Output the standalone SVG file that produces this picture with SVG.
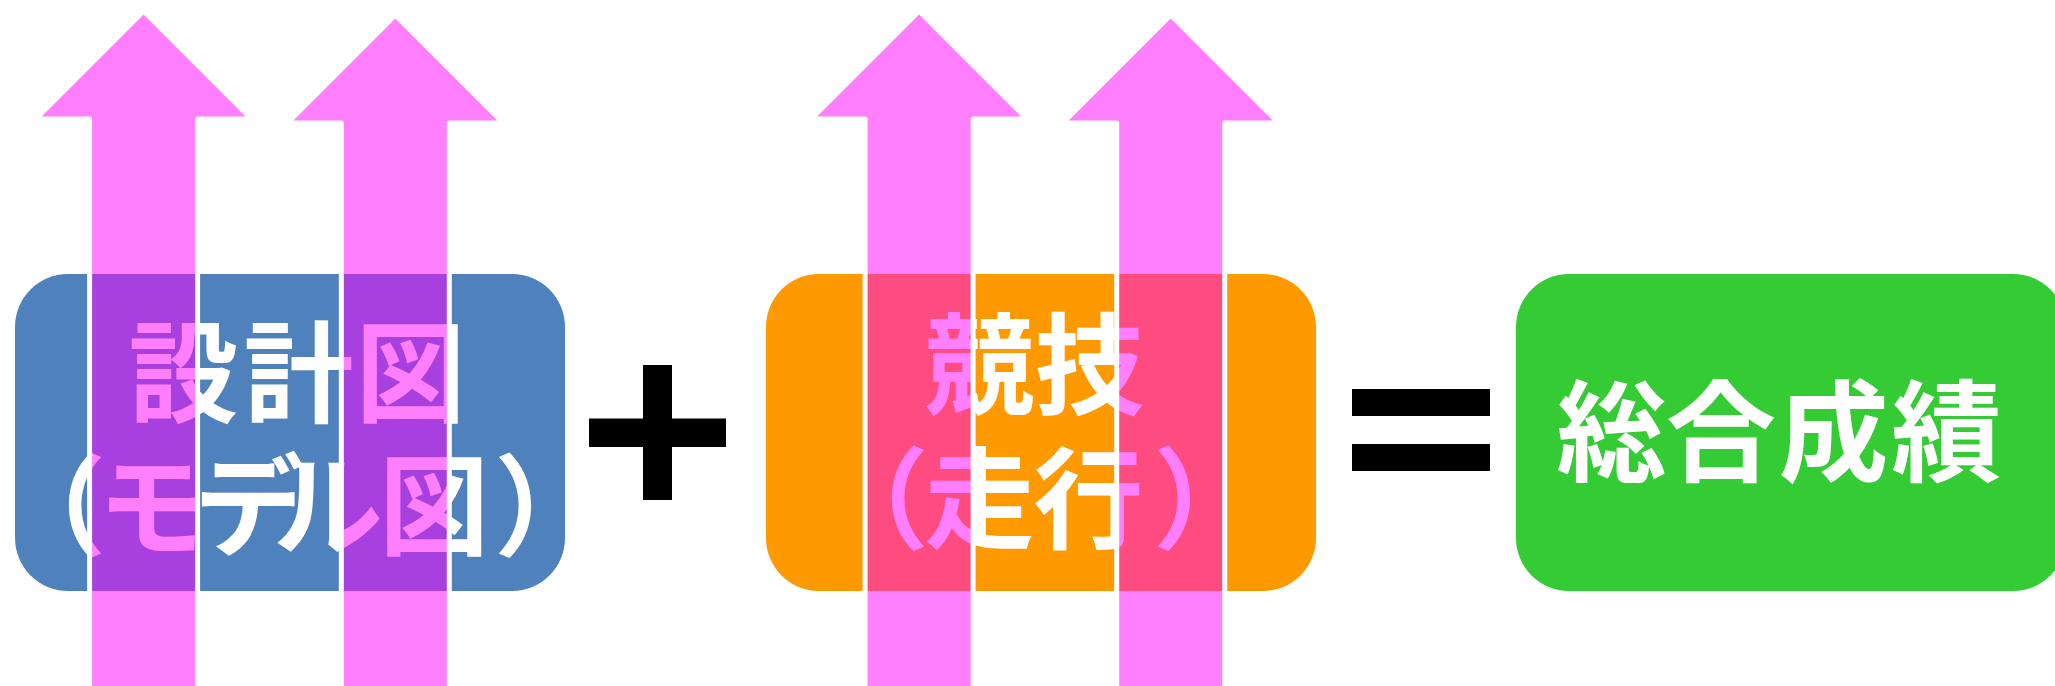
<svg xmlns="http://www.w3.org/2000/svg" width="2055" height="686" viewBox="0 0 2055 686">
<style>
.box{stroke:none}
.lbl{font-family:"Noto Sans CJK JP","Noto Sans CJK SC",sans-serif;font-weight:700;font-size:110px;fill:#ffffff}
.arrow{fill:#FF00FF;fill-opacity:0.5;stroke:#ffffff;stroke-width:5;stroke-linejoin:round}
.op{fill:#000000}
</style>
<rect x="0" y="0" width="2055" height="686" fill="#ffffff"/>
<g id="node-design">
<rect class="box" x="15" y="274" width="550" height="317" rx="53" ry="53" fill="#4F81BD"/>
<text class="lbl"><tspan x="128.5 243.5 355.5" y="414">設計図</tspan><tspan x="-4 97.5 194 273 379 494" y="547">（モデル図）</tspan></text>
</g>
<g id="node-race">
<rect class="box" x="766" y="274" width="550" height="317" rx="53" ry="53" fill="#FF9900"/>
<text class="lbl"><tspan x="924.5 1034.5" y="406">競技</tspan><tspan x="819 924.5 1033.5 1153" y="539.5">（走行）</tspan></text>
</g>
<g id="node-total">
<rect class="box" x="1516" y="274" width="550" height="317" rx="53" ry="53" fill="#35CB35"/>
<text class="lbl" x="1556.5 1666 1778.5 1891.5" y="472.5">総合成績</text>
</g>
<g id="op-plus">
<rect class="op" x="643" y="365" width="29" height="135"/>
<rect class="op" x="589" y="418.5" width="137" height="28.5"/>
</g>
<g id="op-equals">
<rect class="op" x="1352" y="389" width="138" height="27"/>
<rect class="op" x="1352" y="444" width="138" height="27"/>
</g>
<g id="connectors">
<polygon class="arrow" points="143.6,11 251.6,119 197.6,119 197.6,700 89.6,700 89.6,119 35.6,119"/>
<polygon class="arrow" points="395.3,15 503.3,123 449.3,123 449.3,700 341.3,700 341.3,123 287.3,123"/>
<polygon class="arrow" points="919.1,11 1027.1,119 973.1,119 973.1,700 865.1,700 865.1,119 811.1,119"/>
<polygon class="arrow" points="1170.7,15 1278.7,123 1224.7,123 1224.7,700 1116.7,700 1116.7,123 1062.7,123"/>
</g>
</svg>
